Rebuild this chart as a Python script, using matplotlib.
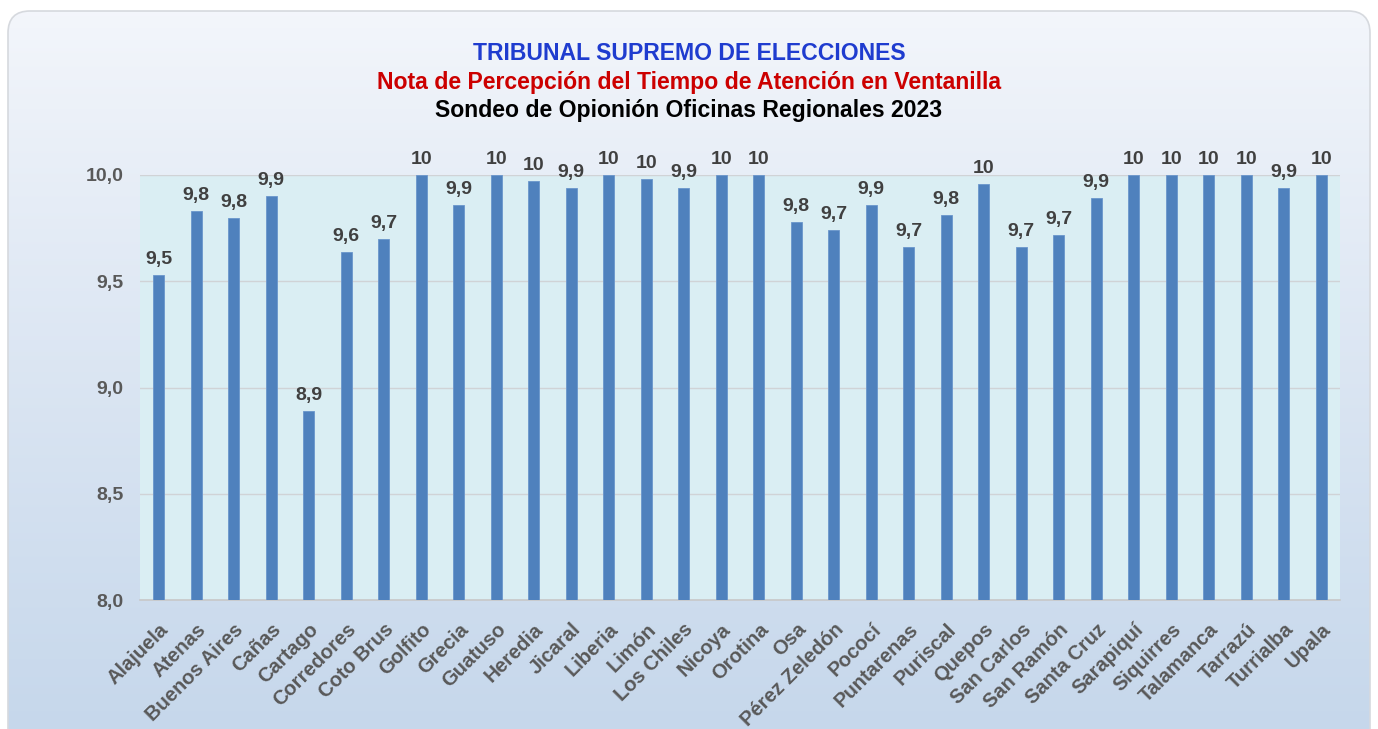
import numpy as np
import matplotlib
matplotlib.use('Agg')
import matplotlib.pyplot as plt
from matplotlib.patches import FancyBboxPatch

# Data
oficinas = ['Alajuela', 'Atenas', 'Buenos Aires', 'Cañas', 'Cartago', 'Corredores',
            'Coto Brus', 'Golfito', 'Grecia', 'Guatuso', 'Heredia', 'Jicaral',
            'Liberia', 'Limón', 'Los Chiles', 'Nicoya', 'Orotina', 'Osa',
            'Pérez Zeledón', 'Pococí', 'Puntarenas', 'Puriscal', 'Quepos',
            'San Carlos', 'San Ramón', 'Santa Cruz', 'Sarapiquí', 'Siquirres',
            'Talamanca', 'Tarrazú', 'Turrialba', 'Upala']
notas = [9.53, 9.83, 9.80, 9.90, 8.89, 9.64, 9.70, 10.0, 9.86, 10.0, 9.97, 9.94,
         10.0, 9.98, 9.94, 10.0, 10.0, 9.78, 9.74, 9.86, 9.66, 9.81, 9.96,
         9.66, 9.72, 9.89, 10.0, 10.0, 10.0, 10.0, 9.94, 10.0]
yticks = [8.0, 8.5, 9.0, 9.5, 10.0]

plt.rcParams['font.family'] = ['Liberation Sans', 'DejaVu Sans']

fig = plt.figure(figsize=(13.78, 7.29), dpi=100)
W, H = 1378, 729

# Card background with vertical gradient
bg = fig.add_axes([0, 0, 1, 1])
bg.set_xlim(0, W)
bg.set_ylim(0, H)
bg.axis('off')
card = FancyBboxPatch((8, -30), W - 16, H - 10 + 30 - 1,
                      boxstyle='round,pad=0,rounding_size=22',
                      facecolor='none', edgecolor='#D6D9DE', linewidth=1.2, zorder=2)
bg.add_patch(card)
grad = np.linspace(0, 1, 256).reshape(-1, 1)
top = np.array([0.955, 0.965, 0.985])
bot = np.array([0.77, 0.84, 0.92])
img = top + (bot - top) * grad[..., None] ** 0.9
im = bg.imshow(img, extent=[8, W - 8, -30, H - 10], origin='upper', aspect='auto', zorder=1)
im.set_clip_path(card)

# Titles
fig.text(0.5, 1 - 53 / H, 'TRIBUNAL SUPREMO DE ELECCIONES', ha='center', va='center',
         color='#1F3CCF', fontsize=16.6, fontweight='bold')
fig.text(0.5, 1 - 82 / H, 'Nota de Percepción del Tiempo de Atención en Ventanilla',
         ha='center', va='center', color='#CC0000', fontsize=16.6, fontweight='bold')
fig.text(0.5, 1 - 110 / H, 'Sondeo de Opionión Oficinas Regionales 2023',
         ha='center', va='center', color='black', fontsize=16.6, fontweight='bold')

# Main chart
ax = fig.add_axes([140 / W, 1 - 600 / H, 1200 / W, 425 / H])
ax.set_facecolor('#DAEEF3')
x = np.arange(len(oficinas))
bars = ax.bar(x, notas, bottom=0, width=0.3, color='#4F81BD', edgecolor='#6A96CC',
              linewidth=0.6, zorder=3)
ax.set_ylim(8.0, 10.0)
ax.set_xlim(-0.5, len(oficinas) - 0.5)
ax.set_yticks(yticks)
ax.set_yticklabels([f'{v:.1f}'.replace('.', ',') for v in yticks])
ax.grid(axis='y', color='#D0D3D6', linewidth=1, zorder=0)
ax.set_axisbelow(True)
for s in ['top', 'right', 'left']:
    ax.spines[s].set_visible(False)
ax.spines['bottom'].set_color('#C8C8C8')
ax.spines['bottom'].set_linewidth(1.2)
ax.tick_params(axis='both', length=0, colors='#595959', labelsize=14)
ax.tick_params(axis='y', pad=12)
ax.set_xticks(x)
ax.set_xticklabels(oficinas, rotation=45, ha='right', rotation_mode='anchor',
                   fontweight='bold', fontsize=14.5, color='#595959')
for lab in ax.get_yticklabels():
    lab.set_fontweight('bold')
for t in ax.get_xticklabels():
    t.set_y(-0.035)

# Value labels
for xi, v in zip(x, notas):
    r = round(v, 1)
    txt = '10' if r >= 10 else f'{r:.1f}'.replace('.', ',')
    ax.annotate(txt, (xi, v), xytext=(0, 5), textcoords='offset points',
                ha='center', va='bottom', fontsize=14, fontweight='bold',
                color='#404040', annotation_clip=False)

fig.savefig('out.png', dpi=100)
